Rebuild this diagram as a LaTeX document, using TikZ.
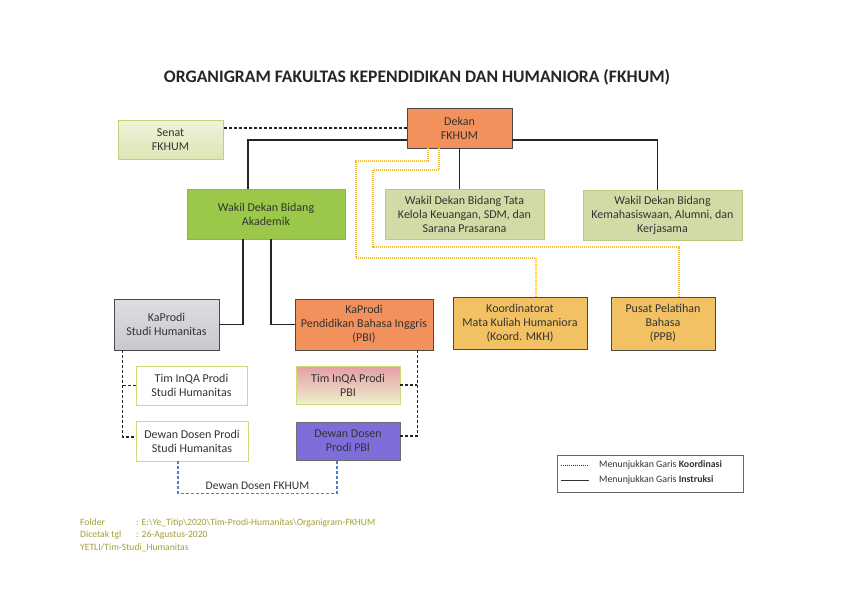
\documentclass[tikz,border=0pt]{standalone}
\usepackage{fontspec}
\setmainfont{Carlito}
\usetikzlibrary{positioning,calc}
\definecolor{frame}{HTML}{4A4A4A}
\definecolor{inkgray}{HTML}{333333}
\definecolor{orangebox}{HTML}{F2915B}
\definecolor{senattop}{HTML}{F0F2DA}
\definecolor{senatbot}{HTML}{E0E5B6}
\definecolor{senatline}{HTML}{C3D27A}
\definecolor{greenbox}{HTML}{9CC84A}
\definecolor{greenline}{HTML}{8DB83E}
\definecolor{olivebox}{HTML}{D4DAA6}
\definecolor{oliveline}{HTML}{BCC97E}
\definecolor{graytop}{HTML}{DEDDE1}
\definecolor{graybot}{HTML}{C9C8CD}
\definecolor{goldbox}{HTML}{F2C164}
\definecolor{whiteline}{HTML}{D3DA7C}
\definecolor{pinktop}{HTML}{E49DA5}
\definecolor{pinkmid}{HTML}{F7F2DE}
\definecolor{pinkbot}{HTML}{EEF0CC}
\definecolor{purplebox}{HTML}{7D6ED9}
\definecolor{dotline}{HTML}{F0BE3C}
\definecolor{blueline}{HTML}{4C7FD2}
\definecolor{footer}{HTML}{A39F3C}
\tikzset{
  node_base/.style={draw=frame,line width=0.8pt,inner sep=2pt,align=center,
    font=\fontsize{12}{14}\selectfont,text=inkgray},
  node_orange/.style={node_base,fill=orangebox},
  node_senat/.style={node_base,draw=senatline,top color=senattop,bottom color=senatbot},
  node_green/.style={node_base,draw=greenline,fill=greenbox},
  node_olive/.style={node_base,draw=oliveline,fill=olivebox},
  node_gray/.style={node_base,top color=graytop,bottom color=graybot},
  node_gold/.style={node_base,fill=goldbox},
  node_white/.style={node_base,draw=whiteline,fill=white},
  node_pink/.style={node_base,draw=whiteline,top color=pinktop,middle color=pinkmid,bottom color=pinkbot},
  node_purple/.style={node_base,draw=frame!80,fill=purplebox},
  line_instr/.style={draw=black!85,line width=1.4pt},
  line_koord/.style={draw=black!85,line width=1.3pt,dash pattern=on 3pt off 2pt},
  line_dot/.style={draw=dotline,line width=1.3pt,dash pattern=on 1pt off 1pt},
  line_blue/.style={draw=blueline,line width=1.1pt,dash pattern=on 3pt off 2pt},
  foot_txt/.style={anchor=base west,inner sep=0pt,text=footer,font=\fontsize{9.6}{11}\selectfont},
  leg_txt/.style={anchor=west,inner sep=0pt,text=inkgray,font=\fontsize{9.8}{11}\selectfont},
}

\begin{document}
\begin{tikzpicture}[x=1pt,y=-1pt]
  \useasboundingbox[fill=white] (0,0) rectangle (841,597);

  \node[inner sep=0pt,font=\fontsize{17.6}{20}\selectfont\bfseries,text=black!85] (title) at (417,77)
    {ORGANIGRAM FAKULTAS KEPENDIDIKAN DAN HUMANIORA (FKHUM)};

  % top level
  \node[node_orange,minimum width=105pt,minimum height=40pt] (dekan) at (459.5,128) {Dekan\\FKHUM};
  \node[node_senat,minimum width=105pt,minimum height=39pt] (senat) at (170.5,139.5) {Senat\\FKHUM};

  % wakil dekan
  \node[node_green,minimum width=158pt,minimum height=50pt] (wdak) at (266,214) {Wakil Dekan Bidang\\Akademik};
  \node[node_olive,minimum width=159pt,minimum height=50pt] (wdtk) at (464.5,214) {Wakil Dekan Bidang Tata\\Kelola Keuangan, SDM, dan\\Sarana Prasarana};
  \node[node_olive,minimum width=159pt,minimum height=50pt] (wdkm) at (662.5,215) {Wakil Dekan Bidang\\Kemahasiswaan, Alumni, dan\\Kerjasama};

  % prodi dan unit
  \node[node_gray,minimum width=105pt,minimum height=51pt] (kpsh) at (166.5,324.5) {KaProdi\\Studi Humanitas};
  \node[node_orange,minimum width=138pt,minimum height=51pt] (kppbi) at (364,324.5) {KaProdi\\Pendidikan Bahasa Inggris\\(PBI)};
  \node[node_gold,minimum width=134pt,minimum height=52pt] (koord) at (520,323) {Koordinatorat\\Mata Kuliah Humaniora\\(Koord. MKH)};
  \node[node_gold,minimum width=104pt,minimum height=53pt] (ppb) at (663,323.5) {Pusat Pelatihan\\Bahasa\\(PPB)};

  % tim dan dewan
  \node[node_white,minimum width=111pt,minimum height=39pt] (timsh) at (191.5,385.5) {Tim InQA Prodi\\Studi Humanitas};
  \node[node_white,minimum width=112pt,minimum height=40pt] (dewsh) at (192,441) {Dewan Dosen Prodi\\Studi Humanitas};
  \node[node_pink,minimum width=104pt,minimum height=38pt] (timpbi) at (348,385) {Tim InQA Prodi\\PBI};
  \node[node_purple,minimum width=104pt,minimum height=38pt] (dewpbi) at (348,441) {Dewan Dosen\\Prodi PBI};

  % garis instruksi
  \draw[line_instr] ($(dekan.west)+(0,12)$) -| ($(wdak.north)+(-18,0)$);
  \draw[line_instr] ($(dekan.east)+(0,12)$) -| ($(wdkm.north)+(-5,0)$);
  \draw[line_instr] (dekan.south) -- (dekan.south |- wdtk.north);
  \draw[line_instr] ($(wdak.south)+(-23,0)$) |- (kpsh.east);
  \draw[line_instr] ($(wdak.south)+(5,0)$) |- (kppbi.west);

  % garis koordinasi
  \draw[line_koord] (dekan.west) -- (dekan.west -| senat.east);
  \coordinate (shbus) at ($(kpsh.south west)+(9,0)$);
  \draw[line_koord] (shbus) |- ($(dewsh.west)+(0,-4)$);
  \draw[line_koord] (timsh.west) -- (timsh.west -| shbus);
  \coordinate (pbibus) at ($(kppbi.south east)+(-16,0)$);
  \draw[line_koord] (pbibus) |- ($(dewpbi.east)+(0,-5)$);
  \draw[line_koord] (timpbi.east) -- (timpbi.east -| pbibus);

  \draw[line_dot] ($(dekan.south)+(-31.5,0)$) |- (356,161) |- (536,258) -- ($(koord.north)+(16,0)$);
  \draw[line_dot] ($(dekan.south)+(-20.5,0)$) |- (373,170) |- (679,247) -- ($(ppb.north)+(16,0)$);

  \draw[line_blue] ($(dewsh.south)+(-14,0)$) -- ++(0,32) -| ($(dewpbi.south)+(-11,0)$)
    node[pos=0.25,above=3pt,inner sep=0pt,font=\fontsize{11.6}{13}\selectfont,text=inkgray] (dewfk) {Dewan Dosen FKHUM};

  % legenda
  \node[draw=black!60,line width=0.6pt,minimum width=186pt,minimum height=37pt] (legend) at (650,473.5) {};
  \node[leg_txt] (legk) at (599,465) {Menunjukkan Garis \textbf{Koordinasi}};
  \node[leg_txt] (legi) at (599,480) {Menunjukkan Garis \textbf{Instruksi}};
  \draw[draw=black!80,line width=0.6pt,dash pattern=on 1.2pt off 0.8pt] ($(legk.west)+(-38,0)$) -- ($(legk.west)+(-10,0)$);
  \draw[draw=black!80,line width=0.6pt] ($(legi.west)+(-38,0)$) -- ($(legi.west)+(-10,0)$);

  % footer
  \node[foot_txt] (fold) at (80,525) {Folder};
  \node[foot_txt] (foldv) at (136,525) {: E:\textbackslash Ye\_Titip\textbackslash 2020\textbackslash Tim-Prodi-Humanitas\textbackslash Organigram-FKHUM};
  \node[foot_txt] (tgl) at (80,537.5) {Dicetak tgl};
  \node[foot_txt] (tglv) at (136,537.5) {: 26-Agustus-2020};
  \node[foot_txt] (yetli) at (80,550) {YETLI/Tim-Studi\_Humanitas};
\end{tikzpicture}
\end{document}
